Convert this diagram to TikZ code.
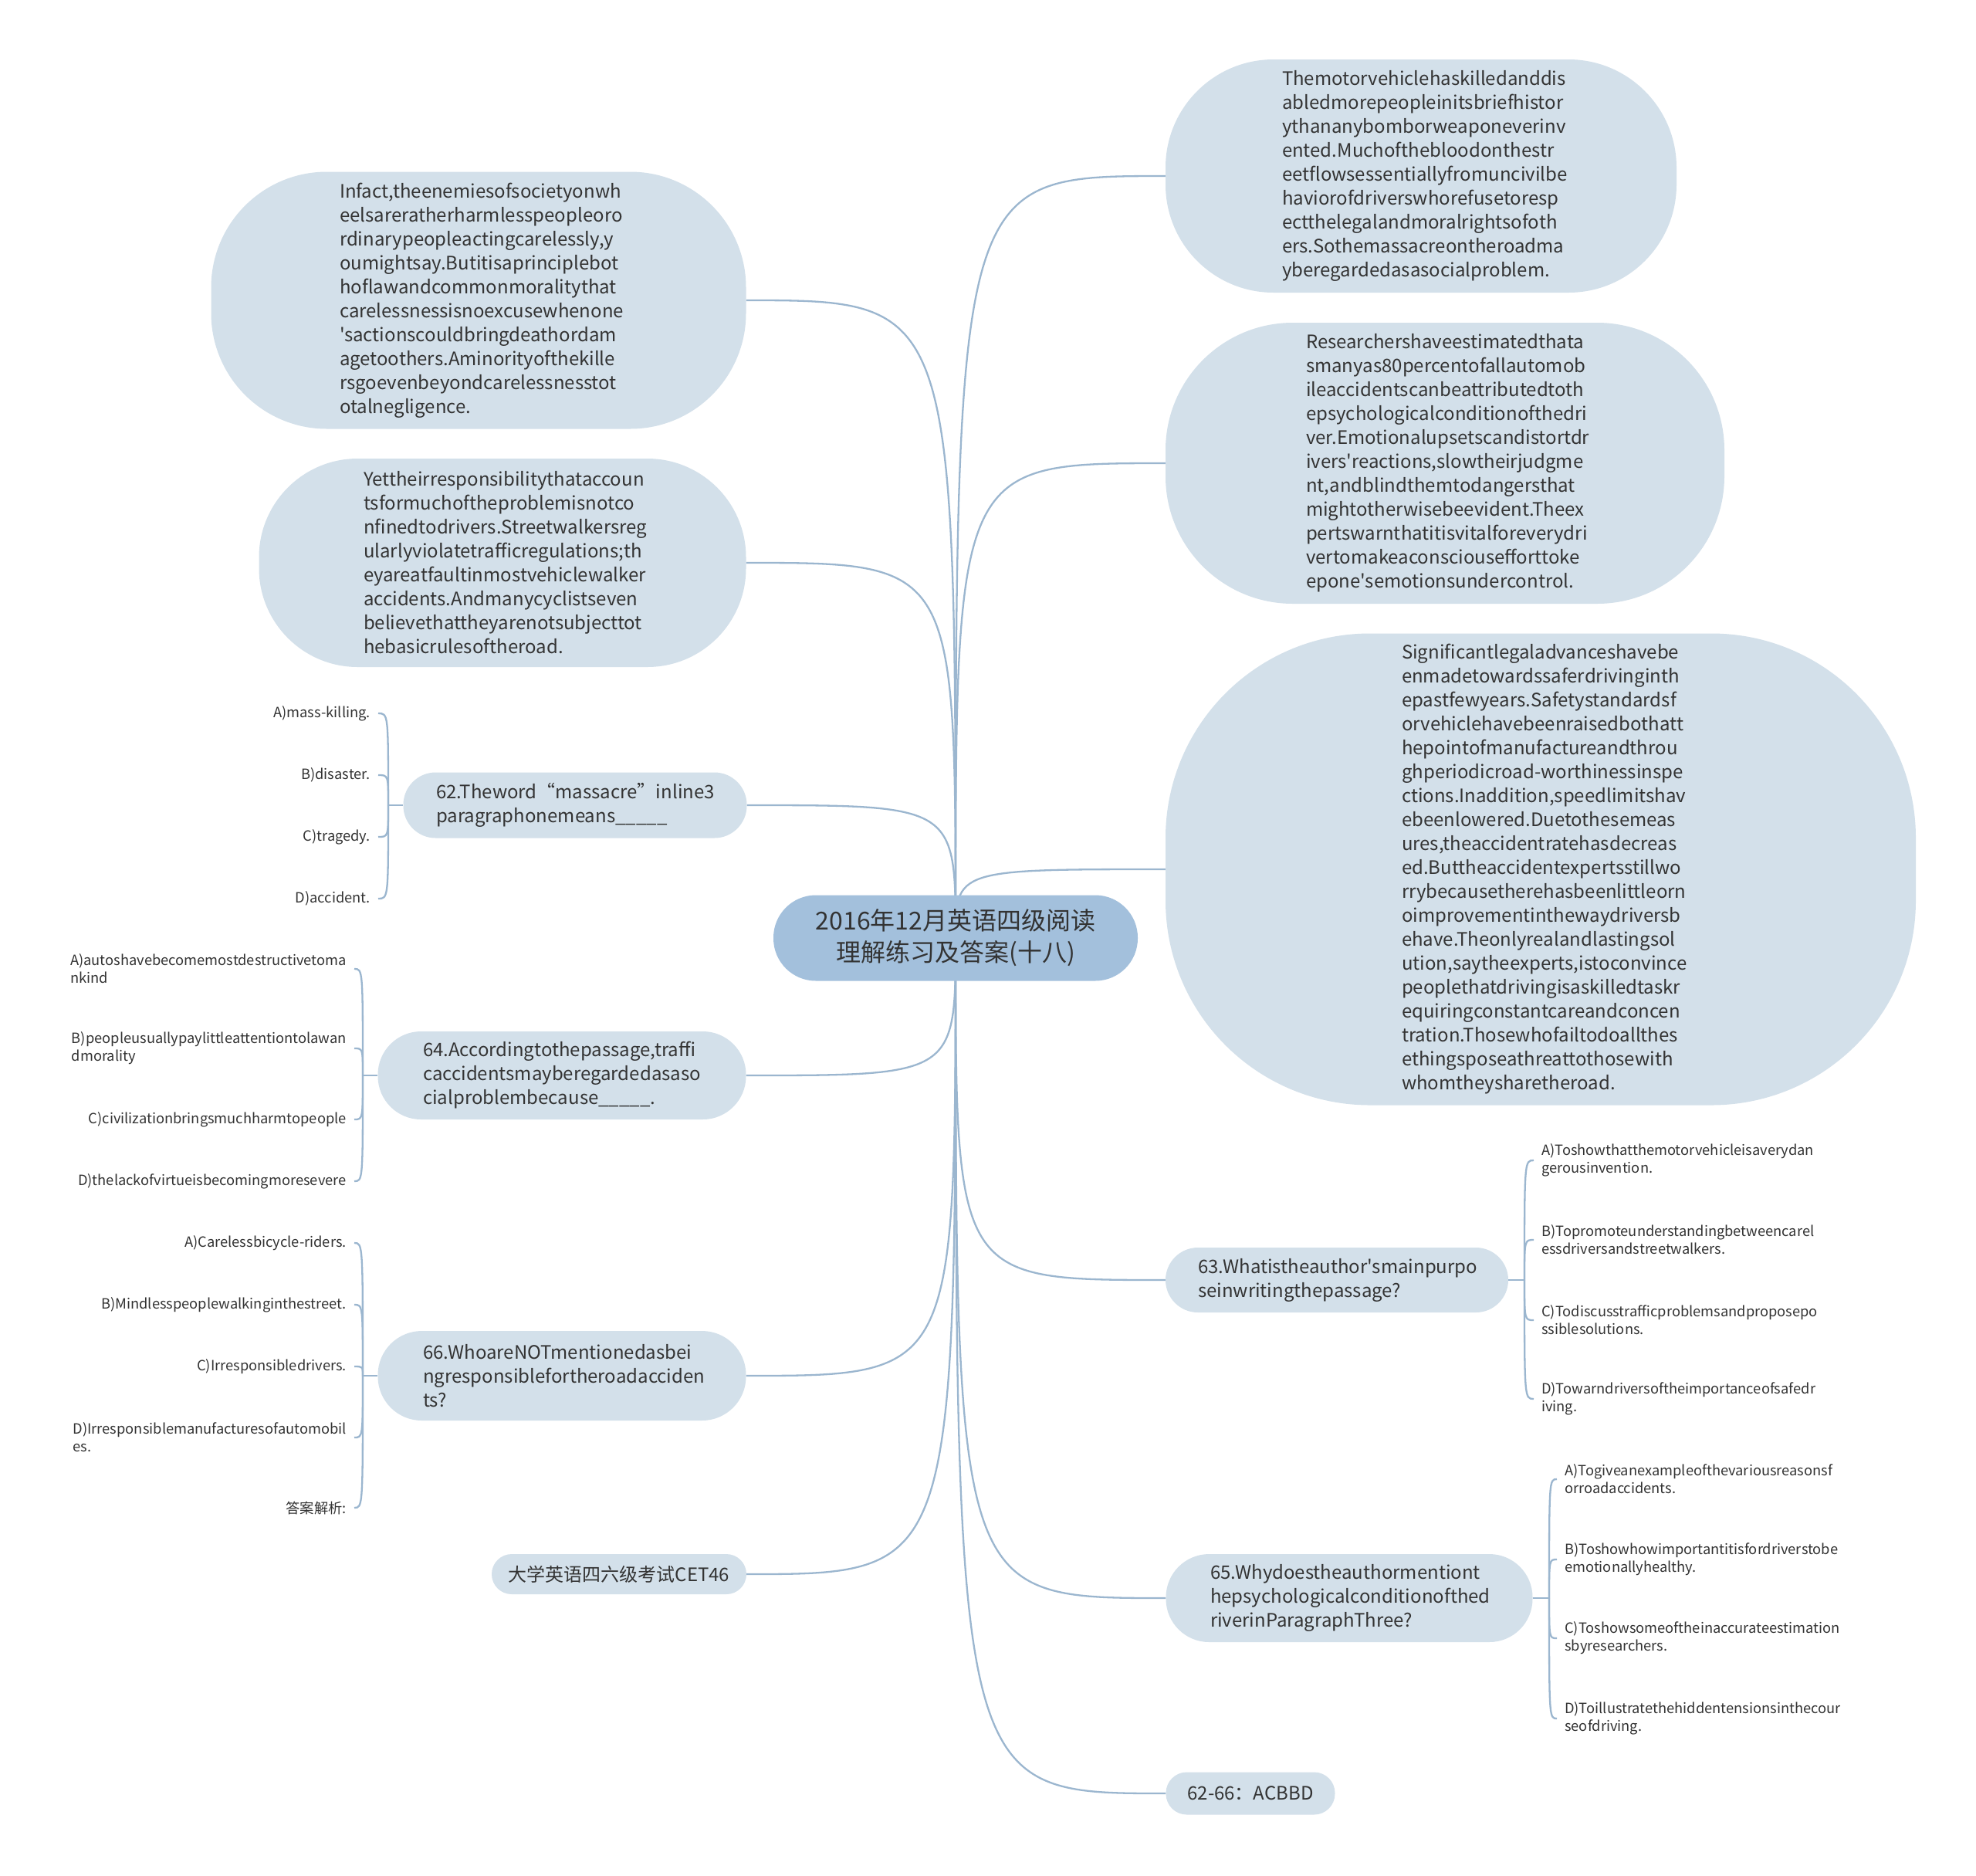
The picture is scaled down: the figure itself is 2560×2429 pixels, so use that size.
\documentclass[tikz,border=0pt]{standalone}
\usepackage{fontspec}
\setmainfont{Noto Sans CJK SC}[Ligatures=TeXOff]
\usetikzlibrary{backgrounds,calc}
\definecolor{nodefill}{HTML}{D3E0EA}
\definecolor{rootfill}{HTML}{A3C0DC}
\definecolor{linecol}{HTML}{9BB6CF}
\definecolor{txt}{HTML}{333333}
\begin{document}
\begin{tikzpicture}[x=1pt,y=-1pt,
  box/.style={fill=nodefill, draw=none, inner sep=0pt, text=txt, font=\fontsize{24}{31}\selectfont},
  para/.style={box, text width=360pt, align=left},
  opt/.style={inner xsep=10pt, inner ysep=2pt, text=txt, align=left, font=\fontsize{18.3}{23}\selectfont},
  conn/.style={draw=linecol, line width=2.3pt},
]
\useasboundingbox (0,0) rectangle (2560,2429);

% root
\node[fill=rootfill, inner sep=0pt, minimum width=472pt, minimum height=111pt, rounded corners=55pt,
      text=txt, align=center, font=\fontsize{32}{41}\selectfont] (root) at (1238,1215)
  {2016年12月英语四级阅读\\理解练习及答案(十八)};

% left side
\node[para, minimum width=693pt, minimum height=333pt, rounded corners=150pt] (n1) at (620,389)
{Infact,theenemiesofsocietyonwh\\eelsareratherharmlesspeopleoro\\rdinarypeopleactingcarelessly,y\\oumightsay.Butitisaprinciplebot\\hoflawandcommonmoralitythat\\carelessnessisnoexcusewhenone\\'sactionscouldbringdeathordam\\agetoothers.Aminorityofthekille\\rsgoevenbeyondcarelessnesstot\\otalnegligence.};

\node[para, minimum width=631pt, minimum height=270pt, rounded corners=128pt] (n2) at (651,729)
{Yettheirresponsibilitythataccoun\\tsformuchoftheproblemisnotco\\nfinedtodrivers.Streetwalkersreg\\ularlyviolatetrafficregulations;th\\eyareatfaultinmostvehiclewalker\\accidents.Andmanycyclistseven\\believethattheyarenotsubjecttot\\hebasicrulesoftheroad.};

\node[para, minimum width=445pt, minimum height=85pt, rounded corners=42pt] (q62) at (745,1043)
{62.Theword“massacre”inline3\\paragraphonemeans\_\_\_\_\_};

\node[para, minimum width=477pt, minimum height=114pt, rounded corners=56pt] (q64) at (728,1393)
{64.Accordingtothepassage,traffi\\caccidentsmayberegardedasaso\\cialproblembecause\_\_\_\_\_.};

\node[para, minimum width=477pt, minimum height=116pt, rounded corners=57pt] (q66) at (728,1782)
{66.WhoareNOTmentionedasbei\\ngresponsiblefortheroadacciden\\ts?};

\node[box, minimum width=330pt, minimum height=52pt, rounded corners=26pt] (cet) at (802,2039)
{大学英语四六级考试CET46};

% right side
\node[para, minimum width=662pt, minimum height=302pt, rounded corners=140pt] (m1) at (1841,228)
{Themotorvehiclehaskilledanddis\\abledmorepeopleinitsbriefhistor\\ythananybomborweaponeverinv\\ented.Muchofthebloodonthestr\\eetflowsessentiallyfromuncivilbe\\haviorofdriverswhorefusetoresp\\ectthelegalandmoralrightsofoth\\ers.Sothemassacreontheroadma\\yberegardedasasocialproblem.};

\node[para, minimum width=724pt, minimum height=364pt, rounded corners=165pt] (m2) at (1872,600)
{Researchershaveestimatedthata\\smanyas80percentofallautomob\\ileaccidentscanbeattributedtoth\\epsychologicalconditionofthedri\\ver.Emotionalupsetscandistortdr\\ivers'reactions,slowtheirjudgme\\nt,andblindthemtodangersthat\\mightotherwisebeevident.Theex\\pertswarnthatitisvitalforeverydri\\vertomakeaconsciousefforttoke\\epone'semotionsundercontrol.};

\node[para, minimum width=972pt, minimum height=611pt, rounded corners=265pt] (m3) at (1996,1126)
{Significantlegaladvanceshavebe\\enmadetowardssaferdrivinginth\\epastfewyears.Safetystandardsf\\orvehiclehavebeenraisedbothatt\\hepointofmanufactureandthrou\\\mbox{ghperiodicroad-worthinessinspe}\\ctions.Inaddition,speedlimitshav\\ebeenlowered.Duetothesemeas\\ures,theaccidentratehasdecreas\\ed.Buttheaccidentexpertsstillwo\\rrybecausetherehasbeenlittleorn\\oimprovementinthewaydriversb\\ehave.Theonlyrealandlastingsol\\ution,saytheexperts,istoconvince\\peoplethatdrivingisaskilledtaskr\\equiringconstantcareandconcen\\tration.Thosewhofailtodoallthes\\ethingsposeathreattothosewith\\whomtheysharetheroad.};

\node[para, minimum width=444pt, minimum height=84pt, rounded corners=42pt] (q63) at (1732,1658)
{63.Whatistheauthor'smainpurpo\\seinwritingthepassage?};

\node[para, minimum width=475pt, minimum height=114pt, rounded corners=56pt] (q65) at (1748,2070)
{65.Whydoestheauthormentiont\\hepsychologicalconditionofthed\\riverinParagraphThree?};

\node[box, minimum width=219pt, minimum height=55pt, rounded corners=27pt] (ans) at (1620,2323)
{62-66：ACBBD};

% options of 62
\node[opt, anchor=east] (o62a) at (490,924) {A)mass-killing.};
\node[opt, anchor=east] (o62b) at (490,1004) {B)disaster.};
\node[opt, anchor=east] (o62c) at (490,1084) {C)tragedy.};
\node[opt, anchor=east] (o62d) at (490,1164) {D)accident.};
% options of 64
\node[opt, anchor=east] (o64a) at (459,1255) {A)autoshavebecomemostdestructivetoma\\nkind};
\node[opt, anchor=east] (o64b) at (459,1358) {B)peopleusuallypaylittleattentiontolawan\\dmorality};
\node[opt, anchor=east] (o64c) at (459,1450) {C)civilizationbringsmuchharmtopeople};
\node[opt, anchor=east] (o64d) at (459,1530) {D)thelackofvirtueisbecomingmoresevere};
% options of 66
\node[opt, anchor=east] (o66a) at (459,1610) {A)Carelessbicycle-riders.};
\node[opt, anchor=east] (o66b) at (459,1690) {B)Mindlesspeoplewalkinginthestreet.};
\node[opt, anchor=east] (o66c) at (459,1770) {C)Irresponsibledrivers.};
\node[opt, anchor=east] (o66d) at (459,1862) {D)Irresponsiblemanufacturesofautomobil\\es.};
\node[opt, anchor=east] (o66e) at (459,1953) {答案解析:};
% options of 63
\node[opt, anchor=west] (o63a) at (1987,1503) {A)Toshowthatthemotorvehicleisaverydan\\gerousinvention.};
\node[opt, anchor=west] (o63b) at (1987,1606) {B)Topromoteunderstandingbetweencarel\\essdriversandstreetwalkers.};
\node[opt, anchor=west] (o63c) at (1987,1710) {C)Todiscusstrafficproblemsandproposepo\\ssiblesolutions.};
\node[opt, anchor=west] (o63d) at (1987,1812) {D)Towarndriversoftheimportanceofsafedr\\iving.};
% options of 65
\node[opt, anchor=west] (o65a) at (2017,1916) {A)Togiveanexampleofthevariousreasonsf\\orroadaccidents.};
\node[opt, anchor=west] (o65b) at (2017,2020) {B)Toshowhowimportantitisfordriverstobe\\emotionallyhealthy.};
\node[opt, anchor=west] (o65c) at (2017,2122) {C)Toshowsomeoftheinaccurateestimation\\sbyresearchers.};
\node[opt, anchor=west] (o65d) at (2017,2226) {D)Toillustratethehiddentensionsinthecour\\seofdriving.};

\coordinate (j62) at (503,1043);
\coordinate (j64) at (470,1393);
\coordinate (j66) at (470,1782);
\coordinate (j63) at (1975,1658);
\coordinate (j65) at (2007,2070);

\begin{scope}[on background layer]
\fill[white] (0,0) rectangle (2560,2429);
\foreach \n in {n1,n2,q62,q64,q66,cet}
  \draw[conn] (root.center) .. controls (root.center |- \n.east) .. (\n.east);
\foreach \n in {m1,m2,m3,q63,q65,ans}
  \draw[conn] (root.center) .. controls (root.center |- \n.west) .. (\n.west);
\end{scope}

\draw[conn] (q62.west) -- (j62);
\foreach \o in {a,b,c,d}
  \draw[conn] (j62) .. controls (j62 |- o62\o.east) .. (o62\o.east);
\draw[conn] (q64.west) -- (j64);
\foreach \o in {a,b,c,d}
  \draw[conn] (j64) .. controls (j64 |- o64\o.east) .. (o64\o.east);
\draw[conn] (q66.west) -- (j66);
\foreach \o in {a,b,c,d,e}
  \draw[conn] (j66) .. controls (j66 |- o66\o.east) .. (o66\o.east);
\draw[conn] (q63.east) -- (j63);
\foreach \o in {a,b,c,d}
  \draw[conn] (j63) .. controls (j63 |- o63\o.west) .. (o63\o.west);
\draw[conn] (q65.east) -- (j65);
\foreach \o in {a,b,c,d}
  \draw[conn] (j65) .. controls (j65 |- o65\o.west) .. (o65\o.west);
\end{tikzpicture}
\end{document}
